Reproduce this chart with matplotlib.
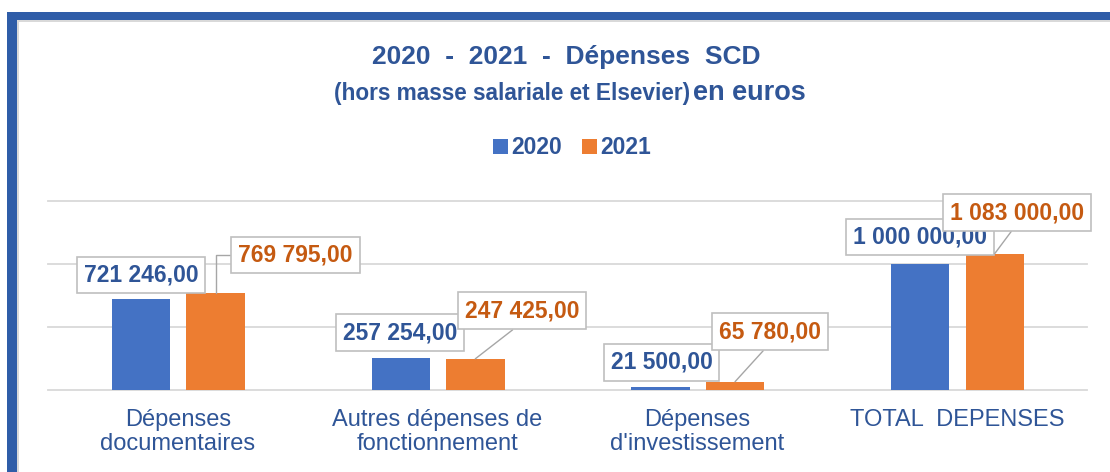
import matplotlib
matplotlib.use("Agg")
import matplotlib.pyplot as plt
import numpy as np
from matplotlib.patches import Rectangle

# ---- data ----
categories = ["Dépenses\ndocumentaires", "Autres dépenses de\nfonctionnement",
              "Dépenses\nd'investissement", "TOTAL  DEPENSES"]
values_2020 = [721246.00, 257254.00, 21500.00, 1000000.00]
values_2021 = [769795.00, 247425.00, 65780.00, 1083000.00]
series_labels = ["2020", "2021"]

# ---- style / layout ----
W, H = 1110, 472
plt.rcParams['font.family'] = ['Liberation Sans', 'DejaVu Sans']
BLUE = '#4472C4'
ORANGE = '#ED7D31'
TXT_BLUE = '#2F5597'
TXT_ORANGE = '#C55A11'
GRID = '#D9D9D9'

# label offsets (pixels) relative to bar tops
off_2020 = [(0, 24), (-1, 25), (1, 25), (0, 27)]
off_2021 = [(80, 38), (47, 48), (35, 50), (22, 41)]

def fmt(v):
    s = f"{v:,.2f}"
    return s.replace(",", " ").replace(".", ",")

fig = plt.figure(figsize=(W / 100, H / 100), dpi=100)
fig.patch.set_facecolor('white')

ax = fig.add_axes([48 / W, 82 / H, 1039 / W, 189 / H])
x = np.arange(len(categories))
bw = 0.225
b1 = ax.bar(x - 0.142, values_2020, width=bw, color=BLUE, zorder=2)
b2 = ax.bar(x + 0.145, values_2021, width=bw, color=ORANGE, zorder=2)

ax.set_xlim(-0.5, 3.5)
ax.set_ylim(0, 1500000)
ax.set_yticks([0, 500000, 1000000, 1500000])
ax.yaxis.grid(True, color=GRID, lw=1.3, zorder=0)
for gl in ax.yaxis.get_gridlines():
    gl.set_clip_on(False)
ax.set_axisbelow(True)
ax.tick_params(axis='y', length=0, labelleft=False)
ax.tick_params(axis='x', length=0, pad=14)
for s in ax.spines.values():
    s.set_visible(False)
ax.set_xticks(x)
ax.set_xticklabels(categories, fontsize=17, color=TXT_BLUE, linespacing=1.12)
ax.patch.set_alpha(0)

box = dict(boxstyle='square,pad=0.3', facecolor='white', edgecolor='#BFBFBF', lw=1.2)

for i, (bar, v) in enumerate(zip(b1, values_2020)):
    xc = bar.get_x() + bar.get_width() / 2
    ax.annotate(fmt(v), xy=(xc, v), xytext=off_2020[i], textcoords='offset pixels',
                ha='center', va='center', fontsize=16.5, fontweight='bold',
                color=TXT_BLUE, bbox=box, zorder=5, annotation_clip=False)

for i, (bar, v) in enumerate(zip(b2, values_2021)):
    xc = bar.get_x() + bar.get_width() / 2
    if i == 0:
        ap = dict(arrowstyle='-', color='#A6A6A6', lw=1.0, shrinkA=0, shrinkB=0,
                  relpos=(0, 0.5), connectionstyle='angle,angleA=0,angleB=90,rad=0')
    else:
        ap = dict(arrowstyle='-', color='#A6A6A6', lw=1.0, shrinkA=0, shrinkB=0,
                  relpos=(0.5, 0))
    ax.annotate(fmt(v), xy=(xc, v), xytext=off_2021[i], textcoords='offset pixels',
                ha='center', va='center', fontsize=16.5, fontweight='bold',
                color=TXT_ORANGE, bbox=box, arrowprops=ap, zorder=6,
                annotation_clip=False)

# titles
fig.text(566 / W, 1 - 57 / H, "2020  -  2021  -  Dépenses  SCD", ha='center', va='center',
         fontsize=19, fontweight='bold', color=TXT_BLUE)
fig.text(690 / W, 1 - 100 / H, "(hors masse salariale et Elsevier)", ha='right', va='baseline',
         fontsize=16.3, fontweight='bold', color=TXT_BLUE)
fig.text(693 / W, 1 - 100 / H, "en euros", ha='left', va='baseline',
         fontsize=19.5, fontweight='bold', color=TXT_BLUE)

# legend
leg = fig.legend([b1, b2], series_labels, loc='center', bbox_to_anchor=(572 / W, 1 - 148 / H),
                 ncol=2, frameon=False, handlelength=0.65, handleheight=0.65,
                 handletextpad=0.15, columnspacing=0.9,
                 prop={'weight': 'bold', 'size': 16.5})
for t in leg.get_texts():
    t.set_color(TXT_BLUE)

# frame (blue border at left and top, thin grey inner line)
FRAME = '#2F5DA8'
fig.patches.append(Rectangle((7 / W, 0), 10 / W, (H - 12) / H, transform=fig.transFigure,
                             facecolor=FRAME, edgecolor='none', zorder=10))
fig.patches.append(Rectangle((7 / W, (H - 20) / H), 1 - 7 / W, 8 / H, transform=fig.transFigure,
                             facecolor=FRAME, edgecolor='none', zorder=10))
fig.patches.append(Rectangle((17 / W, 0), 2 / W, (H - 20) / H, transform=fig.transFigure,
                             facecolor='#D9D9D9', edgecolor='none', zorder=9))
fig.patches.append(Rectangle((17 / W, (H - 22) / H), 1 - 17 / W, 2 / H, transform=fig.transFigure,
                             facecolor='#D9D9D9', edgecolor='none', zorder=9))

fig.savefig("out.png", dpi=100)
